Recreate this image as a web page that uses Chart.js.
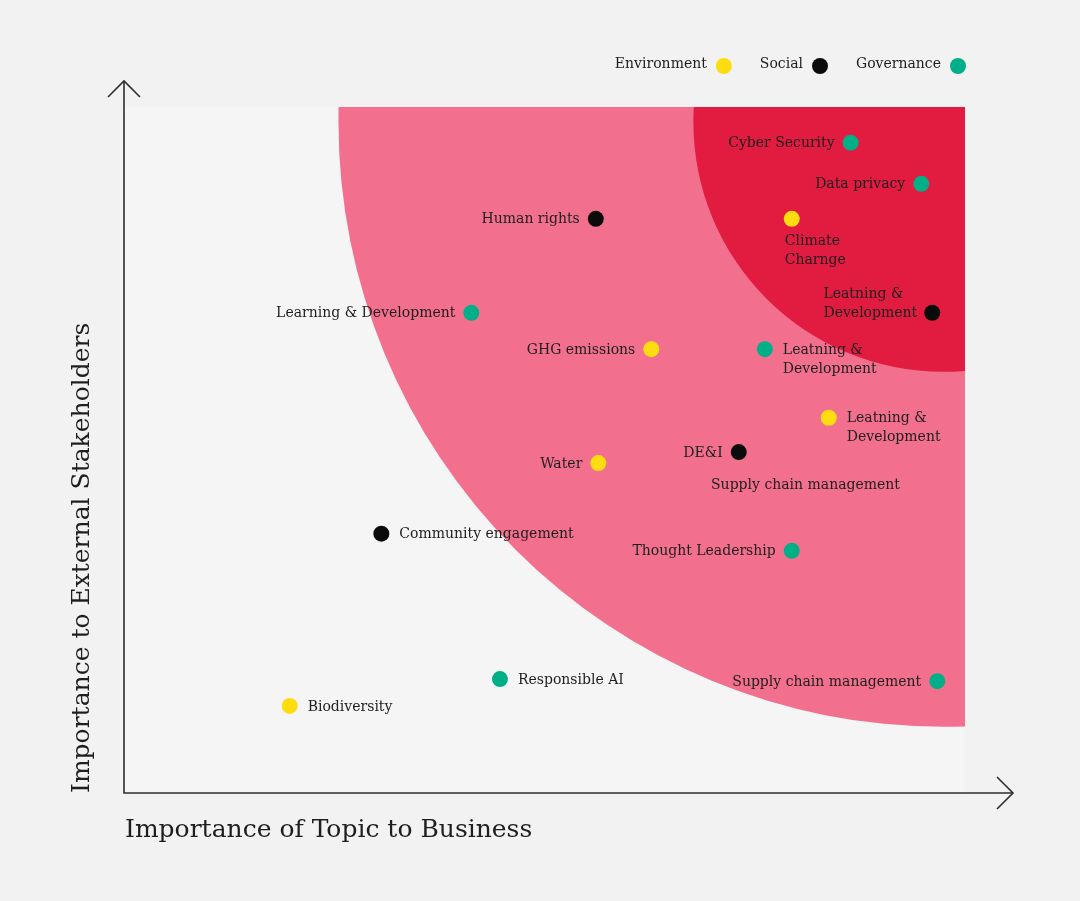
<!DOCTYPE html>
<html>
<head>
<meta charset="utf-8">
<title>Materiality matrix</title>
<script src="https://cdn.jsdelivr.net/npm/chart.js@4.4.1/dist/chart.umd.min.js"></script>
<style>
    html, body { margin: 0; padding: 0; background: #f2f2f2; }
    canvas { display: block; }
</style>
</head>
<body>
<canvas id="matrixChart" width="1080" height="901"></canvas>
<script>
// 数据：每个分类的议题、对业务的重要性(x)、对外部利益相关者的重要性(y)
const envTopics = ['Climate\nCharnge', 'GHG emissions', 'Leatning &\nDevelopment', 'Water', 'Biodiversity'];
const envBusiness = [79.4, 62.7, 83.8, 56.4, 19.7];
const envStakeholders = [83.7, 64.7, 54.7, 48.1, 12.7];

const socialTopics = ['Human rights', 'Leatning &\nDevelopment', 'DE&I', 'Community engagement'];
const socialBusiness = [56.1, 96.1, 73.1, 30.6];
const socialStakeholders = [83.7, 70.0, 49.7, 37.8];

const govTopics = ['Cyber Security', 'Data privacy', 'Learning & Development', 'Leatning &\nDevelopment',
    'Thought Leadership', 'Supply chain management', 'Responsible AI'];
const govBusiness = [86.4, 94.8, 41.3, 76.2, 79.4, 96.7, 44.7];
const govStakeholders = [94.8, 88.8, 70.0, 64.7, 35.3, 16.3, 16.6];

// 没有圆点的标签
const looseLabels = ['Supply chain management'];
const looseBusiness = [69.8];
const looseStakeholders = [44.9];

const seriesNames = ['Environment', 'Social', 'Governance'];
const xTitle = 'Importance of Topic to Business';
const yTitle = 'Importance to External Stakeholders';

// 重要区域（同心圆），单位为 x 轴数值
const zoneCenter = [97.4, 97.8];
const zoneRadius = [71.9, 29.7];

// ---------------- 样式 ----------------
const seriesColors = ['#fedd10', '#0b0b0b', '#00ae87'];
const zoneColors = ['#f2708e', '#e11c40'];
const textColor = '#1e1e1e';
const labelFont = '14px "DejaVu Serif"';
const lineHeight = 19;

// 标签位置
const labelSide = {
    Environment: ['below', 'left', 'right', 'left', 'right'],
    Social: ['left', 'leftBlock', 'left', 'right'],
    Governance: ['left', 'left', 'left', 'right', 'left', 'left', 'right']
};

function toPoints(xs, ys) {
    return xs.map((v, i) => ({ x: v, y: ys[i] }));
}

const topicLists = [envTopics, socialTopics, govTopics];

// 背景与区域
const backgroundPlugin = {
    id: 'matrixBackground',
    beforeDraw(chart) {
        const { ctx, chartArea: a, scales: { x, y } } = chart;
        ctx.save();
        ctx.fillStyle = '#f2f2f2';
        ctx.fillRect(0, 0, chart.width, chart.height);
        ctx.fillStyle = '#f5f5f5';
        ctx.fillRect(a.left, a.top, a.right - a.left, a.bottom - a.top);

        ctx.beginPath();
        ctx.rect(a.left, a.top, a.right - a.left, a.bottom - a.top);
        ctx.clip();
        const cx = x.getPixelForValue(zoneCenter[0]);
        const cy = y.getPixelForValue(zoneCenter[1]);
        zoneRadius.forEach((r, i) => {
            const rp = x.getPixelForValue(zoneCenter[0] + r) - x.getPixelForValue(zoneCenter[0]);
            ctx.beginPath();
            ctx.arc(cx, cy, rp, 0, Math.PI * 2);
            ctx.fillStyle = zoneColors[i];
            ctx.fill();
        });
        ctx.restore();
    }
};

// 坐标轴、标签、图例
const overlayPlugin = {
    id: 'matrixOverlay',
    afterDraw(chart) {
        const { ctx, chartArea: a, scales: { x, y } } = chart;
        ctx.save();

        // 坐标轴和箭头
        ctx.strokeStyle = '#2e2e2e';
        ctx.lineWidth = 1.6;
        ctx.beginPath();
        ctx.moveTo(a.left, a.top - 26);
        ctx.lineTo(a.left, a.bottom);
        ctx.lineTo(a.right + 48, a.bottom);
        ctx.stroke();
        ctx.beginPath();
        ctx.moveTo(a.left - 16, a.top - 10);
        ctx.lineTo(a.left, a.top - 26);
        ctx.lineTo(a.left + 16, a.top - 10);
        ctx.moveTo(a.right + 32, a.bottom - 16);
        ctx.lineTo(a.right + 48, a.bottom);
        ctx.lineTo(a.right + 32, a.bottom + 16);
        ctx.stroke();

        // 轴标题
        ctx.fillStyle = textColor;
        ctx.font = '25px "DejaVu Serif"';
        ctx.textBaseline = 'middle';
        ctx.textAlign = 'left';
        ctx.fillText(xTitle, a.left + 1, a.bottom + 37);
        ctx.save();
        ctx.translate(a.left - 42, a.bottom);
        ctx.rotate(-Math.PI / 2);
        ctx.fillText(yTitle, 0, 0);
        ctx.restore();

        // 数据标签
        ctx.font = labelFont;
        chart.data.datasets.forEach((ds, di) => {
            const meta = chart.getDatasetMeta(di);
            const sides = labelSide[ds.label];
            meta.data.forEach((pt, i) => {
                drawLabel(ctx, topicLists[di][i], pt.x, pt.y, sides[i]);
            });
        });
        looseLabels.forEach((t, i) => {
            ctx.textAlign = 'left';
            ctx.fillText(t, x.getPixelForValue(looseBusiness[i]), y.getPixelForValue(looseStakeholders[i]));
        });

        // 图例（文字在左，圆点在右）
        ctx.font = '14px "DejaVu Serif"';
        let right = 958;
        for (let i = seriesNames.length - 1; i >= 0; i--) {
            ctx.beginPath();
            ctx.arc(right, 66, 8, 0, Math.PI * 2);
            ctx.fillStyle = seriesColors[i];
            ctx.fill();
            ctx.fillStyle = textColor;
            ctx.textAlign = 'right';
            ctx.fillText(seriesNames[i], right - 17, 64);
            right = right - 17 - ctx.measureText(seriesNames[i]).width - 36;
        }
        ctx.restore();
    }
};

function drawLabel(ctx, text, px, py, side) {
    const lines = text.split('\n');
    const width = Math.max(...lines.map(l => ctx.measureText(l).width));
    ctx.fillStyle = textColor;
    ctx.textAlign = 'left';
    lines.forEach((line, k) => {
        let lx, ly;
        if (side === 'left') {
            lx = px - 16 - width;
            ly = py + k * lineHeight;
        } else if (side === 'leftBlock') {
            lx = px - 15 - width;
            ly = py - (lines.length - 1 - k) * lineHeight;
        } else if (side === 'below') {
            lx = px - 7;
            ly = py + 22 + k * lineHeight;
        } else {
            lx = px + 18;
            ly = py + k * lineHeight;
        }
        ctx.fillText(line, lx, ly + 1);
    });
}

const ctx = document.getElementById('matrixChart').getContext('2d');
const chart = new Chart(ctx, {
    type: 'scatter',
    data: {
        datasets: [
            { label: seriesNames[0], data: toPoints(envBusiness, envStakeholders) },
            { label: seriesNames[1], data: toPoints(socialBusiness, socialStakeholders) },
            { label: seriesNames[2], data: toPoints(govBusiness, govStakeholders) }
        ].map((d, i) => Object.assign(d, {
            backgroundColor: seriesColors[i],
            borderWidth: 0,
            pointRadius: 8,
            pointHoverRadius: 8,
            clip: false
        }))
    },
    options: {
        responsive: false,
        animation: false,
        layout: { padding: { left: 124, right: 115, top: 107, bottom: 108 } },
        scales: {
            x: { display: false, min: 0, max: 100 },
            y: { display: false, min: 0, max: 100 }
        },
        plugins: {
            legend: { display: false },
            tooltip: { enabled: false }
        }
    },
    plugins: [backgroundPlugin, overlayPlugin]
});
</script>
</body>
</html>
